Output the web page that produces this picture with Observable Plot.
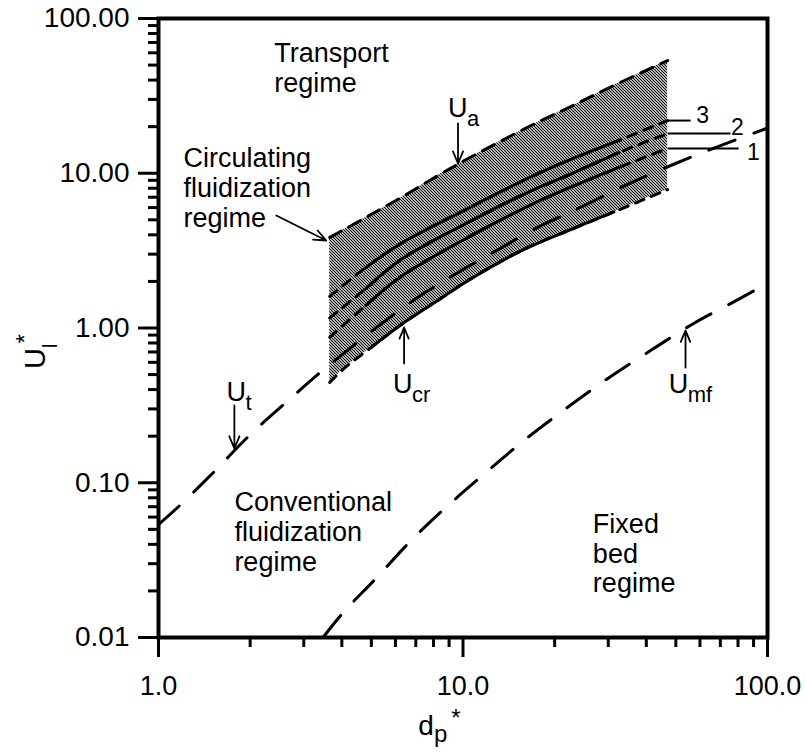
<!DOCTYPE html>
<html><head><meta charset="utf-8">
<script src="https://cdn.jsdelivr.net/npm/d3@7"></script>
<script src="https://cdn.jsdelivr.net/npm/@observablehq/plot@0.6"></script>
<style>body{margin:0;background:#fff;} svg{display:block}</style>
</head><body><div id="chart"></div>
<script>
// ---------------- data ----------------
// shaded circulating-fluidization band: lower edge U_cr, upper edge U_a
const bandX = [3.65, 4.07, 4.99, 6.26, 8.28, 10.4, 15.8, 22.6, 31.3, 47.0];
const uaY   = [3.85, 4.33, 5.41, 6.97, 9.67, 12.45, 19.2, 27.0, 36.9, 53.5];
const ucrY  = [0.445, 0.548, 0.748, 1.05, 1.51, 2.03, 3.21, 4.33, 5.62, 7.85];

// curves 1, 2, 3 inside the band
const curveX  = [3.65, 4.8, 6.26, 10.38, 17.09, 20.18, 32.5, 47.0];
const curve1Y = [0.87, 1.40, 2.15, 3.85, 6.38, 7.40, 10.9, 14.45];
const curve2Y = [1.16, 1.80, 2.77, 4.81, 7.85, 8.98, 13.6, 18.07];
const curve3Y = [1.60, 2.46, 3.52, 5.92, 9.67, 11.2, 16.3, 21.9];
const solidRange = [4.7, 33];

// terminal velocity U_t
const utX = [1.0, 1.146, 1.514, 1.988, 2.668, 3.555, 6.50, 8.93, 12.54, 17.35, 24.7, 34.8, 49.9, 70.1, 100];
const utY = [0.0537, 0.0682, 0.1165, 0.202, 0.340, 0.5555, 1.398, 2.09, 3.07, 4.40, 6.10, 8.50, 11.56, 15.1, 19.6];

// minimum fluidization velocity U_mf
const umfX = [3.47, 4.04, 5.18, 6.75, 8.93, 11.9, 15.85, 21.8, 29.9, 41.3, 57.2, 79.7, 100];
const umfY = [0.0100, 0.0145, 0.0241, 0.0423, 0.0713, 0.1165, 0.1875, 0.302, 0.472, 0.715, 1.07, 1.52, 1.95];

// axis ticks
const xMajor = [1, 10, 100];
const xTickLabels = ["1.0", "10.0", "100.0"];
const yMajor = [0.01, 0.1, 1, 10, 100];
const yTickLabels = ["0.01", "0.10", "1.00", "10.00", "100.00"];
const minorMultipliers = [2, 3, 4, 5, 6, 7, 8, 9];

// annotations
const regimeText = ["Transport\nregime", "Circulating\nfluidization\nregime", "Conventional\nfluidization\nregime", "Fixed\nbed\nregime"];
const regimeX = [2.40, 1.208, 1.775, 26.7];
const regimeY = [33.5, 4.50, 0.0268, 0.01954];

const uSub = ["a", "cr", "mf", "t"];
const uX = [8.93, 5.894, 47.36, 1.671];
const uY = [22.93, 0.383, 0.383, 0.340];

const arrowX1 = [9.63, 6.405, 53.8, 1.775, 2.437];
const arrowY1 = [20.97, 0.590, 0.5555, 0.3157, 5.33];
const arrowX2 = [9.63, 6.405, 53.8, 1.775, 3.555];
const arrowY2 = [11.56, 1.0075, 0.9634, 0.1665, 3.677];

const curveNames = ["1", "2", "3"];
const leaderY = [14.45, 18.07, 21.9];
const leaderX2 = [80.4, 75.6, 55.9];
const curveLabelX = [89.9, 79.7, 61.2];
const curveLabelY = [13.6, 19.75, 23.6];

// ---------------- build ----------------
const font = "'Liberation Sans', Arial, Helvetica, sans-serif";
const pts = (xs, ys) => xs.map((x, i) => ({x, y: ys[i]}));
const solid = d => d.filter(p => p.x >= solidRange[0] && p.x <= solidRange[1]);
const band = bandX.map((x, i) => ({x, lo: ucrY[i], hi: uaY[i]}));
const ua = pts(bandX, uaY), ucr = pts(bandX, ucrY);
const curves = [curve1Y, curve2Y, curve3Y].map(ys => pts(curveX, ys));
const ut = pts(utX, utY), umf = pts(umfX, umfY);
const regimes = regimeText.map((t, i) => ({t, x: regimeX[i], y: regimeY[i]}));
const uLabels = uSub.map((s, i) => ({s, x: uX[i], y: uY[i]}));
const arrows = arrowX1.map((x1, i) => ({x1, y1: arrowY1[i], x2: arrowX2[i], y2: arrowY2[i]}));
const leaders = curveNames.map((n, i) => ({x1: curveX[curveX.length - 1], x2: leaderX2[i], y: leaderY[i]}));
const curveLabels = curveNames.map((n, i) => ({n, x: curveLabelX[i], y: curveLabelY[i]}));
const xLab = new Map(xMajor.map((v, i) => [v, xTickLabels[i]]));
const yLab = new Map(yMajor.map((v, i) => [v, yTickLabels[i]]));
const xMinor = [1, 10].flatMap(d => minorMultipliers.map(m => m * d));
const yMinor = [0.01, 0.1, 1, 10].flatMap(d => minorMultipliers.map(m => +(m * d).toPrecision(3)));

const lineOpts = {x: "x", y: "y", stroke: "black", strokeWidth: 3, curve: "catmull-rom"};

const marks = [
  Plot.areaY(band, {x: "x", y1: "lo", y2: "hi", fill: "url(#hatch)", curve: "catmull-rom"}),
  Plot.line(ua, {...lineOpts, strokeDasharray: "13,9"}),
  Plot.line(ucr, {...lineOpts, strokeDasharray: "9,8"}),
  Plot.line(solid(ucr), {...lineOpts}),
  ...curves.flatMap(c => [
    Plot.line(c, {...lineOpts, strokeDasharray: "9,8"}),
    Plot.line(solid(c), {...lineOpts})
  ]),
  Plot.line(ut, {...lineOpts, strokeDasharray: "28,20"}),
  Plot.line(umf, {...lineOpts, strokeDasharray: "28,20"}),
  Plot.text(regimes, {x: "x", y: "y", text: "t", textAnchor: "start", lineAnchor: "bottom", lineHeight: 1.11, fontSize: 27}),
  Plot.text(uLabels, {x: "x", y: "y", text: () => "U", textAnchor: "start", lineAnchor: "bottom", fontSize: 27}),
  Plot.text(uLabels, {x: "x", y: "y", text: "s", textAnchor: "start", lineAnchor: "bottom", fontSize: 22, dx: 19, dy: 9}),
  Plot.arrow(arrows, {x1: "x1", y1: "y1", x2: "x2", y2: "y2", stroke: "black", strokeWidth: 1.8, headLength: 11, headAngle: 45}),
  Plot.link(leaders, {x1: "x1", x2: "x2", y1: "y", y2: "y", stroke: "black", strokeWidth: 2}),
  Plot.text(curveLabels, {x: "x", y: "y", text: "n", fontSize: 23}),
  Plot.axisY(yMinor, {anchor: "left", tickSize: 10, strokeWidth: 3, tickFormat: () => null, fill: "none", label: null}),
  Plot.axisX(xMinor, {anchor: "bottom", tickSize: 10, strokeWidth: 3, tickFormat: () => null, fill: "none", label: null}),
  Plot.axisY(yMajor, {anchor: "left", tickSize: 20, tickPadding: 9, strokeWidth: 3, fontSize: 28, tickFormat: d => yLab.get(d), label: null}),
  Plot.axisX(xMajor, {anchor: "bottom", tickSize: 20, tickPadding: 18, strokeWidth: 3, fontSize: 27, tickFormat: d => xLab.get(d), label: null}),
  Plot.frame({stroke: "black", strokeWidth: 4})
];

const chart = Plot.plot({
  width: 806, height: 755,
  marginLeft: 158, marginRight: 39, marginTop: 18, marginBottom: 118,
  style: {fontFamily: font, background: "white", color: "black", overflow: "visible"},
  x: {type: "log", domain: [1, 100]},
  y: {type: "log", domain: [0.01, 100]},
  marks
});

const svg = d3.select(chart);
// fine diagonal ("\") hatching for the circulating-fluidization band
const pat = svg.insert("defs", ":first-child").append("pattern")
  .attr("id", "hatch").attr("patternUnits", "userSpaceOnUse")
  .attr("width", 3).attr("height", 3);
pat.append("rect").attr("width", 3).attr("height", 3).attr("fill", "#fff");
pat.append("path").attr("d", "M-1,-1L4,4M-1,2L1,4M2,-1L4,1")
  .attr("stroke", "#000").attr("stroke-width", 1.15).attr("fill", "none");

// axis titles with sub/superscripts
const sx = chart.scale("x"), sy = chart.scale("y");
const xt = svg.append("text").attr("x", sx.apply(10) - 23).attr("y", 735)
  .attr("font-size", 28).attr("fill", "black");
xt.append("tspan").text("d");
xt.append("tspan").attr("font-size", 24).attr("dy", 7).text("p");
xt.append("tspan").attr("font-size", 24).attr("dy", -16).attr("dx", 4).text("*");

const yt = svg.append("text").attr("transform", `translate(45,${sy.apply(1) + 24}) rotate(-90)`)
  .attr("font-size", 29).attr("fill", "black");
yt.append("tspan").text("U");
yt.append("tspan").attr("font-size", 20).attr("dy", 12).text("l");
yt.append("tspan").attr("font-size", 24).attr("dy", -24.5).text("*");

document.getElementById("chart").append(chart);
</script>
</body></html>
